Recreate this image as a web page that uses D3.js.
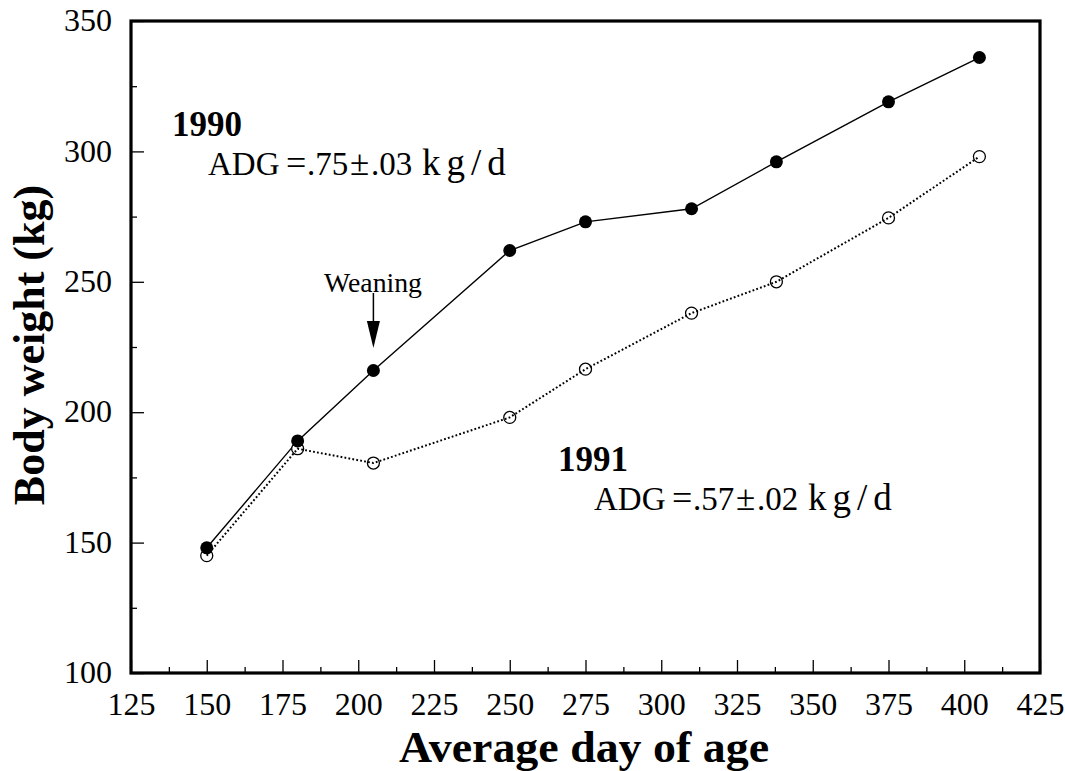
<!DOCTYPE html>
<html>
<head>
<meta charset="utf-8">
<script src="https://cdn.jsdelivr.net/npm/d3@7"></script>
<style>
  body { margin: 0; background: #fff; }
  svg { display: block; font-family: "Liberation Serif", "DejaVu Serif", serif; }
</style>
</head>
<body>
<svg id="chart"></svg>
<script>
// Data
const days1990 = [150, 180, 205, 250, 275, 310, 338, 375, 405];
const weight1990 = [148, 189, 216, 262, 273, 278, 296, 319, 336];
const days1991 = [150, 180, 205, 250, 275, 310, 338, 375, 405];
const weight1991 = [145, 186, 180.5, 198, 216.5, 238, 250, 274.5, 298];
const xTicks = [125, 150, 175, 200, 225, 250, 275, 300, 325, 350, 375, 400, 425];
const yTicks = [100, 150, 200, 250, 300, 350];

const W = 1065, H = 771;
const margin = { top: 21, right: 25, bottom: 98, left: 131 };
const width = W - margin.left - margin.right;
const height = H - margin.top - margin.bottom;

const svg = d3.select('#chart')
    .attr('width', W)
    .attr('height', H);

const g = svg.append('g')
    .attr('transform', `translate(${margin.left},${margin.top})`);

const x = d3.scaleLinear().domain([125, 425]).range([0, width]);
const y = d3.scaleLinear().domain([100, 350]).range([height, 0]);

// minor ticks (no labels)
g.append('g')
    .attr('transform', `translate(0,${height})`)
    .call(d3.axisBottom(x).tickValues(d3.range(137.5, 425, 25)).tickSize(-6).tickFormat(''))
    .call(a => a.select('.domain').remove())
    .selectAll('line').attr('stroke-width', 1.3);

g.append('g')
    .call(d3.axisLeft(y).tickValues(d3.range(125, 350, 50)).tickSize(-6).tickFormat(''))
    .call(a => a.select('.domain').remove())
    .selectAll('line').attr('stroke-width', 1.3);

// major ticks with labels
const xAxis = g.append('g')
    .attr('transform', `translate(0,${height})`)
    .call(d3.axisBottom(x).tickValues(xTicks).tickSize(-13).tickPadding(0))
    .call(a => a.select('.domain').remove());
xAxis.selectAll('line').attr('stroke-width', 1.3);
xAxis.selectAll('text')
    .attr('y', 42)
    .attr('dy', 0)
    .style('font-size', '32px')
    .style('font-family', '"Liberation Serif", serif')
    .style('fill', '#000');

const yAxis = g.append('g')
    .call(d3.axisLeft(y).tickValues(yTicks).tickSize(-13).tickPadding(0))
    .call(a => a.select('.domain').remove());
yAxis.selectAll('line').attr('stroke-width', 1.3);
yAxis.selectAll('text')
    .attr('x', -19)
    .attr('dy', '0.3em')
    .style('font-size', '32px')
    .style('font-family', '"Liberation Serif", serif')
    .style('fill', '#000');

// frame
g.append('rect')
    .attr('x', 0).attr('y', 0)
    .attr('width', width).attr('height', height)
    .attr('fill', 'none')
    .attr('stroke', '#000')
    .attr('stroke-width', 3.2);

// lines
const line = d3.line().x(d => x(d[0])).y(d => y(d[1]));
const pts1990 = days1990.map((d, i) => [d, weight1990[i]]);
const pts1991 = days1991.map((d, i) => [d, weight1991[i]]);

g.append('path')
    .datum(pts1990)
    .attr('d', line)
    .attr('fill', 'none')
    .attr('stroke', '#000')
    .attr('stroke-width', 1.4);

g.selectAll('.open')
    .data(pts1991)
  .enter().append('circle')
    .attr('class', 'open')
    .attr('cx', d => x(d[0]))
    .attr('cy', d => y(d[1]))
    .attr('r', 6)
    .attr('fill', '#fff')
    .attr('stroke', '#000')
    .attr('stroke-width', 1.3);

g.append('path')
    .datum(pts1991)
    .attr('d', line)
    .attr('fill', 'none')
    .attr('stroke', '#000')
    .attr('stroke-width', 2)
    .attr('stroke-dasharray', '1.8,2.2');

g.selectAll('.filled')
    .data(pts1990)
  .enter().append('circle')
    .attr('class', 'filled')
    .attr('cx', d => x(d[0]))
    .attr('cy', d => y(d[1]))
    .attr('r', 6.5)
    .attr('fill', '#000');

// annotations
function adgLabel(x0, y0, rate, err) {
  const t = svg.append('text')
      .attr('y', y0)
      .style('font-size', '33px');
  t.append('tspan').attr('x', x0).text('ADG');
  t.append('tspan').attr('x', x0 + 78).style('font-size', '36px').text('=');
  t.append('tspan').attr('x', x0 + 99).text(rate);
  t.append('tspan').attr('x', x0 + 142).style('font-size', '35px').text('±');
  t.append('tspan').attr('x', x0 + 163).text(err);
  t.append('tspan').attr('x', x0 + 214)
      .style('font-size', '37px')
      .style('letter-spacing', '6px')
      .text('kg/d');
}

svg.append('text')
    .attr('x', 172).attr('y', 136)
    .style('font-size', '35px').style('font-weight', 'bold')
    .text('1990');
adgLabel(208, 175, '.75', '.03');

svg.append('text')
    .attr('x', 558).attr('y', 471)
    .style('font-size', '35px').style('font-weight', 'bold')
    .text('1991');
adgLabel(594, 510, '.57', '.02');

// weaning arrow
const ax = margin.left + x(205);
svg.append('text')
    .attr('x', 324).attr('y', 292)
    .attr('textLength', 98).attr('lengthAdjust', 'spacingAndGlyphs')
    .style('font-size', '27px')
    .text('Weaning');
svg.append('line')
    .attr('x1', ax).attr('x2', ax)
    .attr('y1', 293).attr('y2', 325)
    .attr('stroke', '#000').attr('stroke-width', 1.5);
svg.append('path')
    .attr('d', `M${ax - 6.5},321 L${ax + 6.5},321 L${ax},348 Z`)
    .attr('fill', '#000');

// axis titles
svg.append('text')
    .attr('x', 584).attr('y', 762)
    .attr('text-anchor', 'middle')
    .attr('textLength', 370).attr('lengthAdjust', 'spacingAndGlyphs')
    .style('font-size', '44px').style('font-weight', 'bold')
    .text('Average day of age');

svg.append('text')
    .attr('transform', `translate(44,${margin.top + height / 2 - 2}) rotate(-90)`)
    .attr('text-anchor', 'middle')
    .style('font-size', '44px').style('font-weight', 'bold')
    .text('Body weight (kg)');
</script>
</body>
</html>
